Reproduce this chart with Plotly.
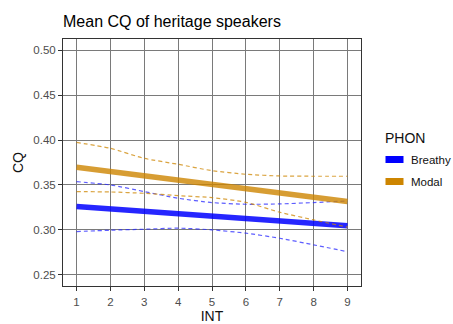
import plotly.graph_objects as go

# ---- data ----
INT = [1, 2, 3, 4, 5, 6, 7, 8, 9]

breathy_mean = [0.3260, 0.3232, 0.3207, 0.3179, 0.3150, 0.3122, 0.3097, 0.3072, 0.3046]
breathy_upper = [0.3537, 0.3500, 0.3426, 0.3352, 0.3304, 0.3285, 0.3289, 0.3304, 0.3322]
breathy_lower = [0.2981, 0.2996, 0.3007, 0.3019, 0.3000, 0.2963, 0.2907, 0.2833, 0.2757]

modal_mean = [0.3698, 0.3650, 0.3604, 0.3562, 0.3505, 0.3461, 0.3414, 0.3366, 0.3315]
modal_upper = [0.3974, 0.3908, 0.3796, 0.3730, 0.3659, 0.3619, 0.3600, 0.3597, 0.3597]
modal_lower = [0.3426, 0.3422, 0.3407, 0.3381, 0.3359, 0.3307, 0.3196, 0.3111, 0.3030]

groups = ["Breathy", "Modal"]
y_ticks = [0.25, 0.30, 0.35, 0.40, 0.45, 0.50]

BLUE = "#0000FF"
ORANGE = "#CD8500"

fig = go.Figure()

series = [
    ("Breathy", breathy_mean, breathy_upper, breathy_lower, "rgba(0,0,255,0.85)", "rgba(40,40,255,0.75)"),
    ("Modal", modal_mean, modal_upper, modal_lower, "rgba(205,133,0,0.8)", "rgba(205,133,0,0.75)"),
]
for name, m, up, lo, mc, dc in series:
    for ci in (up, lo):
        fig.add_trace(go.Scatter(x=INT, y=ci, mode="lines", showlegend=False, hoverinfo="skip",
                                 line=dict(color=dc, width=1.2, dash="4px,3px", shape="spline", smoothing=0.6)))
    fig.add_trace(go.Scatter(x=INT, y=m, mode="lines", name=name, showlegend=False, hoverinfo="skip",
                             line=dict(color=mc, width=5.5)))

# panel geometry in pixels
W, H = 453, 324
L, R, T, B = 63, 361, 39, 286

def px(xp):
    return (xp - L) / (R - L)

def py(yp):
    return (B - yp) / (B - T)

# manual legend (ggplot style)
fig.add_annotation(x=px(383), y=py(138), xref="paper", yref="paper", text="PHON",
                   showarrow=False, xanchor="left", yanchor="middle",
                   font=dict(size=14, color="#111111"))
for label, col, yc in [("Breathy", BLUE, 159.5), ("Modal", ORANGE, 181.5)]:
    fig.add_shape(type="rect", xref="paper", yref="paper",
                  x0=px(385.5), x1=px(403.5), y0=py(yc - 3.5), y1=py(yc + 3.5),
                  fillcolor=col, line=dict(width=0))
    fig.add_annotation(x=px(409), y=py(yc), xref="paper", yref="paper", text=label,
                       showarrow=False, xanchor="left", yanchor="middle",
                       font=dict(size=11.5, color="#111111"))

axis_common = dict(
    showgrid=True, gridcolor="#7a7a7a", gridwidth=1,
    showline=True, linecolor="#333333", linewidth=1, mirror=True,
    ticks="outside", ticklen=4, tickcolor="#333333", tickwidth=1,
    zeroline=False, automargin=False,
    tickfont=dict(size=11.5, color="#4d4d4d"),
)

fig.update_layout(
    width=W, height=H,
    margin=dict(l=L, r=W - R, t=T, b=H - B, autoexpand=False),
    paper_bgcolor="white", plot_bgcolor="white",
    font=dict(family="Liberation Sans, Arial, sans-serif"),
    title=dict(text="Mean CQ of heritage speakers", x=L / W, xanchor="left",
               y=1 - 21 / H, yanchor="middle", xref="container", yref="container",
               font=dict(size=16, color="#000000")),
    showlegend=False,
    hovermode=False,
    xaxis=dict(range=[0.6, 9.4], tickvals=INT, ticktext=[str(v) for v in INT],
               ticklabelstandoff=1,
               title=dict(text="INT", font=dict(size=14, color="#111111"), standoff=6),
               **axis_common),
    yaxis=dict(range=[0.2375, 0.5125], tickvals=y_ticks,
               ticktext=[f"{v:.2f}" for v in y_ticks],
               title=dict(text="CQ", font=dict(size=14, color="#111111"), standoff=6),
               **axis_common),
)

fig.write_html("out.html", config={"displayModeBar": False},
               post_script="document.body.style.margin='0';document.body.style.overflow='hidden';")
